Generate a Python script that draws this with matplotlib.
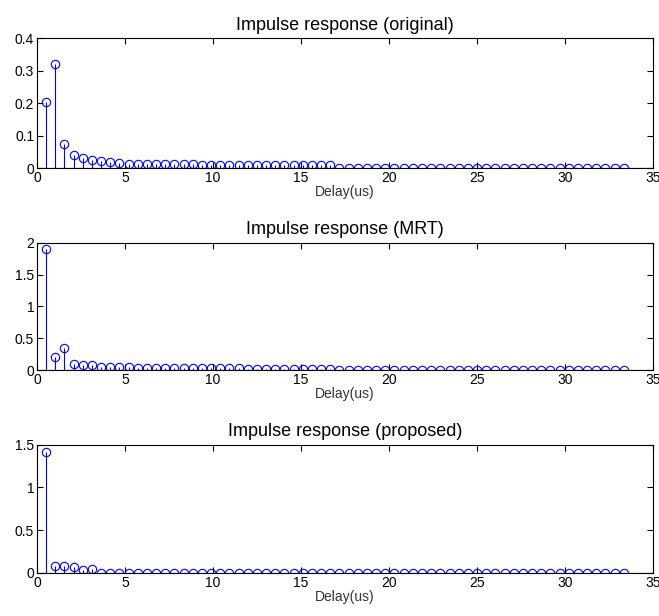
import numpy as np
import matplotlib.pyplot as plt

plt.rcParams['font.family'] = ['Liberation Sans', 'DejaVu Sans']

# tap delays (us), 64 taps at 1/1.92 MHz
n_taps = 64
delay = np.arange(1, n_taps + 1) / 1.92

orig_head = [0.205, 0.32, 0.073, 0.042, 0.031, 0.024, 0.021, 0.019, 0.016, 0.014,
             0.013, 0.013, 0.013, 0.012, 0.012, 0.012, 0.012, 0.011, 0.011, 0.011,
             0.011, 0.011, 0.010, 0.010, 0.010, 0.010, 0.010, 0.010, 0.010, 0.010,
             0.010, 0.010]
mrt_head = [1.9, 0.2, 0.35, 0.1, 0.08, 0.075, 0.055, 0.05, 0.05, 0.05,
            0.04, 0.035, 0.035, 0.035, 0.035, 0.03, 0.03, 0.03, 0.03, 0.03,
            0.03, 0.03, 0.025, 0.025, 0.025, 0.025, 0.025, 0.025, 0.025, 0.025,
            0.02, 0.02]
prop_head = [1.42, 0.08, 0.085, 0.07, 0.03, 0.045]

orig = orig_head + [0.0] * (n_taps - len(orig_head))
mrt = mrt_head + [0.0] * (n_taps - len(mrt_head))
prop = prop_head + [0.0] * (n_taps - len(prop_head))

titles = ['Impulse response (original)', 'Impulse response (MRT)', 'Impulse response (proposed)']
series = [orig, mrt, prop]
ylims = [0.4, 2, 1.5]
yticks = [[0, 0.1, 0.2, 0.3, 0.4], [0, 0.5, 1, 1.5, 2], [0, 0.5, 1, 1.5]]
ytlabels = [['0', '0.1', '0.2', '0.3', '0.4'], ['0', '0.5', '1', '1.5', '2'], ['0', '0.5', '1', '1.5']]

fig = plt.figure(figsize=(6.59, 6.16), dpi=100)
rects = [[0.056, 0.727, 0.935, 0.211],
         [0.056, 0.399, 0.935, 0.207],
         [0.056, 0.070, 0.935, 0.208]]

for i in range(3):
    ax = fig.add_axes(rects[i])
    markers, stems, base = ax.stem(delay, series[i], basefmt=' ')
    plt.setp(stems, color='blue', linewidth=0.8)
    plt.setp(markers, color='blue', marker='o', markerfacecolor='none',
             markersize=6, markeredgewidth=0.8)
    ax.axhline(0, color='black', linewidth=0.8, zorder=1)
    ax.set_xlim(0, 35)
    ax.set_ylim(0, ylims[i])
    ax.set_xticks([0, 5, 10, 15, 20, 25, 30, 35])
    ax.set_yticks(yticks[i])
    ax.set_yticklabels(ytlabels[i])
    ax.tick_params(direction='in', top=True, right=True, labelsize=10, length=4, pad=2)
    ax.set_title(titles[i], fontsize=13, pad=6)
    ax.set_xlabel('Delay(us)', fontsize=10, color='#333333', labelpad=0)
    for sp in ax.spines.values():
        sp.set_linewidth(0.8)

fig.savefig('out.png', dpi=100)
